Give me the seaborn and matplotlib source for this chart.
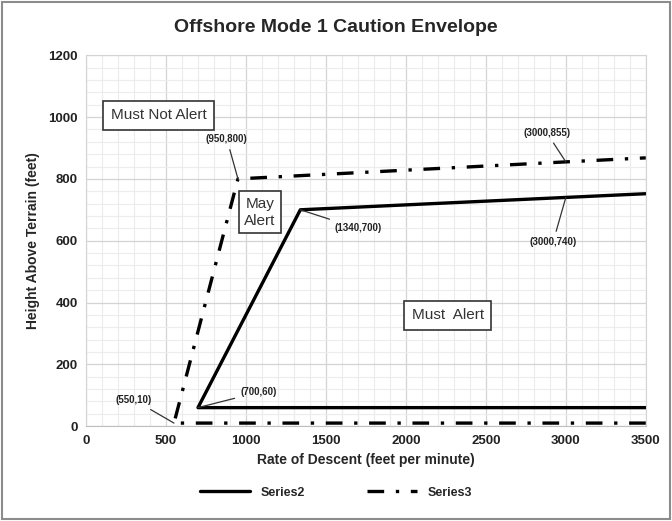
import pandas as pd
import seaborn as sns
import matplotlib.pyplot as plt
from matplotlib.ticker import MultipleLocator
from matplotlib.patches import Rectangle

# data
series2_x = [3500, 700, 1340, 3000, 3500]
series2_y = [60, 60, 700, 740, 752]
series3_x = [3500, 550, 950, 3000, 3500]
series3_y = [10, 10, 800, 855, 868]

x_ticks = [0, 500, 1000, 1500, 2000, 2500, 3000, 3500]
y_ticks = [0, 200, 400, 600, 800, 1000, 1200]

sns.set_style('white')
plt.rcParams['font.family'] = ['Liberation Sans', 'DejaVu Sans']

tabela = pd.concat([
    pd.DataFrame({'x': series2_x, 'y': series2_y, 'serie': 'Series2'}),
    pd.DataFrame({'x': series3_x, 'y': series3_y, 'serie': 'Series3'}),
])

fig = plt.figure(figsize=(6.72, 5.21), dpi=100)
ax = fig.add_axes([0.128, 0.182, 0.833, 0.712])

sns.lineplot(data=tabela, x='x', y='y', hue='serie', style='serie', sort=False,
             palette={'Series2': 'black', 'Series3': 'black'},
             dashes={'Series2': '', 'Series3': (5, 3.5, 1, 3.5)},
             linewidth=2.4, estimator=None, ax=ax)

ax.set_xlim(0, 3500)
ax.set_ylim(0, 1200)
ax.set_xticks(x_ticks)
ax.set_yticks(y_ticks)
ax.xaxis.set_minor_locator(MultipleLocator(100))
ax.yaxis.set_minor_locator(MultipleLocator(40))
ax.grid(which='major', color='#d4d4d4', linewidth=0.9)
ax.grid(which='minor', color='#ececec', linewidth=0.8)
ax.set_axisbelow(True)
for s in ax.spines.values():
    s.set_color('#d4d4d4')
ax.spines['bottom'].set_color('#bfbfbf')
ax.tick_params(length=0, labelsize=9.5, pad=6)
for lab in ax.get_xticklabels() + ax.get_yticklabels():
    lab.set_fontweight('bold')
    lab.set_color('#222222')

ax.set_xlabel('Rate of Descent (feet per minute)', fontsize=10, fontweight='bold', labelpad=5)
ax.set_ylabel('Height Above Terrain (feet)', fontsize=10, fontweight='bold', labelpad=6)
fig.suptitle('Offshore Mode 1 Caution Envelope', fontsize=14, fontweight='bold', y=0.963)

# region labels
caixa = dict(boxstyle='square,pad=0.5', fc='white', ec='#333333', lw=1.2)
ax.text(456, 1006, 'Must Not Alert', fontsize=11, ha='center', va='center', color='#333333', bbox=caixa)
ax.text(1087, 692, 'May\nAlert', fontsize=11, ha='center', va='center', color='#333333',
        linespacing=1.3, bbox=dict(boxstyle='square,pad=0.35', fc='white', ec='#333333', lw=1.2))
ax.text(2262, 359, 'Must  Alert', fontsize=11, ha='center', va='center', color='#333333', bbox=caixa)

# point labels with leader lines
pontos = [
    ((950, 800), (880, 930), '(950,800)'),
    ((1340, 700), (1700, 640), '(1340,700)'),
    ((3000, 855), (2880, 950), '(3000,855)'),
    ((3000, 740), (2920, 595), '(3000,740)'),
    ((700, 60), (1080, 110), '(700,60)'),
    ((550, 10), (300, 85), '(550,10)'),
]
for (px, py), (tx, ty), txt in pontos:
    ax.annotate(txt, xy=(px, py), xytext=(tx, ty), fontsize=7, fontweight='bold',
                ha='center', va='center', color='#222222',
                arrowprops=dict(arrowstyle='-', color='#333333', lw=0.9, shrinkA=2, shrinkB=0))

handles, labels = ax.get_legend_handles_labels()
ax.get_legend().remove()
leg = fig.legend(handles, labels, loc='center', bbox_to_anchor=(0.5, 0.054), ncol=2, frameon=False,
                 handlelength=4, columnspacing=5, prop={'weight': 'bold', 'size': 9})
for h in leg.get_lines():
    h.set_linewidth(2.4)

fig.patches.append(Rectangle((0.003, 0.003), 0.994, 0.994, transform=fig.transFigure,
                             fill=False, ec='#8c8c8c', lw=1.5))

fig.savefig('out.png', dpi=100)
